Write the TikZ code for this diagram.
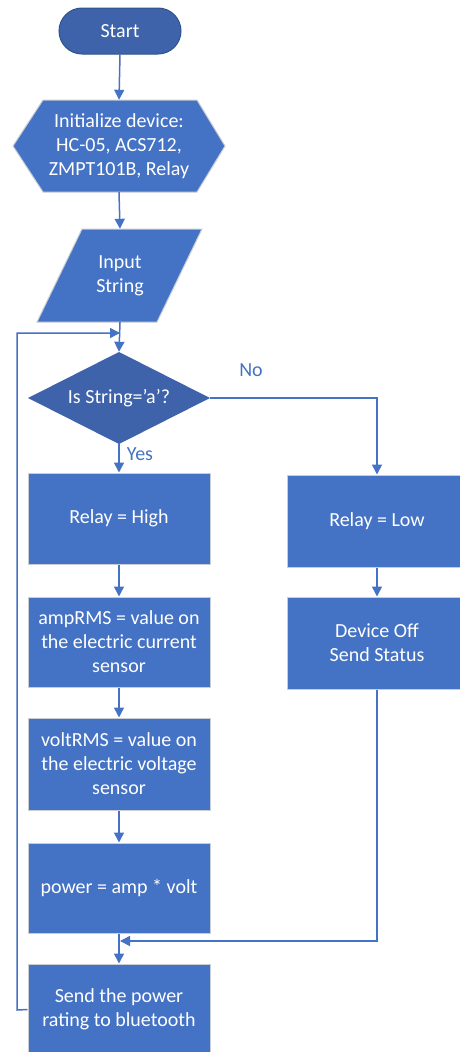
\documentclass[tikz,border=0pt]{standalone}
\usepackage{fontspec}
\setmainfont{Carlito}
\usetikzlibrary{arrows.meta}
\definecolor{boxblue}{HTML}{4472C4}
\definecolor{darkblue}{HTML}{3E63AA}
\definecolor{edgeblue}{HTML}{2F528F}
\definecolor{rim}{HTML}{C9CDD4}
\tikzset{
  txt/.style={font=\fontsize{20}{24}\selectfont, text=white, align=center},
  procbox/.style={txt, rectangle, fill=boxblue, draw=rim, line width=1pt,
     minimum width=182pt, minimum height=91pt, inner sep=0pt},
  termbox/.style={txt, rectangle, rounded corners=23pt, fill=darkblue, draw=edgeblue,
     line width=1pt, minimum width=122pt, minimum height=46pt, inner sep=0pt},
  ghost/.style={txt, rectangle, draw=none, inner sep=0pt},
  conn/.style={draw=boxblue, line width=1.5pt, -{Triangle[width=10pt,length=10pt]}},
  lbl/.style={font=\fontsize{20}{24}\selectfont, text=boxblue}
}
\begin{document}
\begin{tikzpicture}[x=1pt,y=-1pt]
\useasboundingbox (0,0) rectangle (460,1052);
\clip (0,0) rectangle (460,1052);
% Start
\node[termbox] (start) at (120,31) {Start};
% Hexagon
\fill[boxblue, draw=rim, line width=1pt] (13,146) -- (43,100) -- (197,100) -- (225,146) -- (197,192) -- (43,192) -- cycle;
\node[ghost, minimum width=212pt, minimum height=92pt] (init) at (119,146) {Initialize device:\\HC-05, ACS712,\\ZMPT101B, Relay};
% Parallelogram
\fill[boxblue, draw=rim, line width=1pt] (82,229) -- (202,229) -- (157,322) -- (37,322) -- cycle;
\node[ghost, minimum width=120pt, minimum height=93pt] (input) at (120,275.5) {Input\\String};
% Decision
\fill[darkblue] (119,352) -- (210,398) -- (119,444) -- (28,398) -- cycle;
\node[ghost, minimum width=182pt, minimum height=92pt] (dec) at (119,398) {Is String=’a’?};
% Left column
\node[procbox] (relH) at (119,518.5) {Relay = High};
\node[procbox, minimum height=90pt] (amp) at (119,642) {ampRMS = value on\\the electric current\\sensor};
\node[procbox, minimum height=92pt] (volt) at (119,764) {voltRMS = value on\\the electric voltage\\sensor};
\node[procbox, minimum height=90pt] (pow) at (119,888) {power = amp * volt};
\node[procbox] (send) at (119,1009.5) {Send the power\\rating to bluetooth};
% Right column
\node[procbox, minimum width=180pt, minimum height=92pt] (relL) at (377,521) {Relay = Low};
\node[procbox, minimum width=180pt, minimum height=92pt] (dev) at (377,643) {Device Off\\Send Status};
% Labels
\node[lbl] (no) at (251,370) {No};
\node[lbl] (yes) at (140,454) {Yes};
% Helper coordinates
\coordinate (loopA) at (17,1010);
\coordinate (loopB) at (17,333);
\coordinate (loopEnd) at (120,333);
\coordinate (noCorner) at (377,398);
\coordinate (mergeA) at (377,941);
\coordinate (mergeEnd) at (120,941);
% Connectors
\draw[conn] (start.south) -- (init.north);
\draw[conn] (init.south) -- (input.north);
\draw[conn] (input.south) -- (dec.north);
\draw[conn] (dec.south) -- (relH.north);
\draw[conn] (dec.east) -- (noCorner) -- (relL.north);
\draw[conn] (relH.south) -- (amp.north);
\draw[conn] (amp.south) -- (volt.north);
\draw[conn] (volt.south) -- (pow.north);
\draw[conn] (pow.south) -- (send.north);
\draw[conn] (relL.south) -- (dev.north);
\draw[conn] (dev.south) -- (mergeA) -- (mergeEnd);
\draw[conn] (send.west) -- (loopA) -- (loopB) -- (loopEnd);
\end{tikzpicture}
\end{document}
